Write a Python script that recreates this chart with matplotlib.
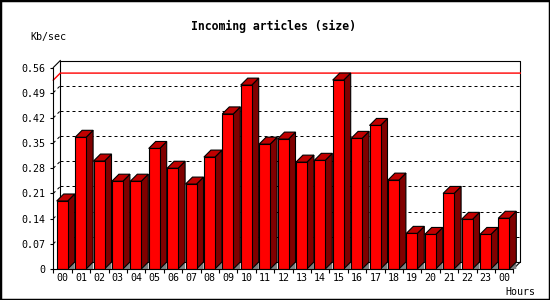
import matplotlib
matplotlib.use('Agg')
import matplotlib.pyplot as plt
from matplotlib.patches import Rectangle
import numpy as np

# ---- data ----
hours = ['00', '01', '02', '03', '04', '05', '06', '07', '08', '09', '10', '11',
         '12', '13', '14', '15', '16', '17', '18', '19', '20', '21', '22', '23', '00']
values = [0.189, 0.366, 0.300, 0.244, 0.244, 0.335, 0.280, 0.236, 0.311, 0.431,
          0.511, 0.347, 0.361, 0.297, 0.302, 0.525, 0.363, 0.399, 0.247, 0.099,
          0.096, 0.210, 0.138, 0.096, 0.141]
yticks = [0, 0.07, 0.14, 0.21, 0.28, 0.35, 0.42, 0.49, 0.56]
ytick_labels = ['0', '0.07', '0.14', '0.21', '0.28', '0.35', '0.42', '0.49', '0.56']
title = 'Incoming articles (size)'
ylabel = 'Kb/sec'
xlabel = 'Hours'

# ---- styling ----
W, H = 550, 300
FRONT = '#ff0000'
SIDE = '#800000'
TOP = '#c00000'
FLOOR = '#808080'
MONO = 'DejaVu Sans Mono'

fig = plt.figure(figsize=(W / 100, H / 100), dpi=100)
ax_left, ax_right, ax_bot, ax_top = 53.3, 513.3, 269.0, 67.5
ax = fig.add_axes([ax_left / W, 1 - ax_bot / H, (ax_right - ax_left) / W, (ax_bot - ax_top) / H])
n = len(values)
ymax = yticks[-1]
ax.set_xlim(0, n)
ax.set_ylim(0, ymax)

# 3D depth (7 px) in data units
px_x = (ax_right - ax_left) / n
px_y = (ax_bot - ax_top) / ymax
dx = 7 / px_x
dy = 7 / px_y
off = 3.4 / px_x
bw = 11 / px_x

lw = 0.8
dots = (0, (3, 3))

# back wall
ax.plot([dx, dx, n + dx, n + dx, dx], [dy, ymax + dy, ymax + dy, dy, dy],
        color='black', lw=lw, clip_on=False, zorder=1)
ax.plot([0, dx], [ymax, ymax + dy], color='black', lw=lw, clip_on=False, zorder=1)
ax.plot([n, n + dx], [0, dy], color='black', lw=lw, clip_on=False, zorder=1)
# grid on back wall and left wall
for v in yticks[1:-1]:
    ax.plot([dx, n + dx], [v + dy, v + dy], color='black', lw=0.72, ls=dots,
            clip_on=False, zorder=1)
    ax.plot([0, dx], [v, v + dy], color='black', lw=0.72, ls=dots,
            clip_on=False, zorder=1)
# max line
m = max(values)
ax.plot([0, dx, n + dx], [m, m + dy, m + dy], color='#ff0000', lw=1.0,
        clip_on=False, zorder=1.5)

# bars
xs = np.arange(n)
for i, v in enumerate(values):
    xl = xs[i] + off
    xr = xl + bw
    ax.fill([xr, xr + dx, xr + dx], [0, dy, 0], color=FLOOR, lw=0,
            clip_on=False, zorder=2)
    ax.fill([xr, xr + dx, xr + dx, xr], [0, dy, v + dy, v], facecolor=SIDE,
            edgecolor='black', lw=lw, clip_on=False, zorder=3)
    ax.fill([xl, xl + dx, xr + dx, xr], [v, v + dy, v + dy, v], facecolor=TOP,
            edgecolor='black', lw=lw, clip_on=False, zorder=3)
ax.bar(xs + off, values, width=bw, align='edge', color=FRONT, edgecolor='black',
       lw=lw, zorder=4)

# axes styling
for s in ['top', 'right']:
    ax.spines[s].set_visible(False)
for s in ['left', 'bottom']:
    ax.spines[s].set_linewidth(lw)
    ax.spines[s].set_zorder(5)
ax.set_facecolor('none')
ax.set_yticks(yticks)
ax.set_yticklabels(ytick_labels, fontfamily=MONO, fontsize=7.2)
ax.tick_params(axis='y', length=2.5, width=lw, pad=3)
ax.set_xticks(np.arange(n + 1))
ax.set_xticklabels([])
ax.set_xticks(xs + 0.5, minor=True)
ax.set_xticklabels(hours, minor=True, fontfamily=MONO, fontsize=7.2)
ax.tick_params(axis='x', which='major', length=3, width=lw)
ax.tick_params(axis='x', which='minor', length=0, pad=3)

fig.text(273.7 / W, 1 - 26.7 / H, title, ha='center', va='center',
         fontfamily=MONO, fontweight='bold', fontsize=8.3)
fig.text(30 / W, 1 - 36.7 / H, ylabel, ha='left', va='center',
         fontfamily=MONO, fontsize=7.2)
fig.text(505 / W, 1 - 291.7 / H, xlabel, ha='left', va='center',
         fontfamily=MONO, fontsize=7.2)

fig.add_artist(Rectangle((0, 0), 1, 1, transform=fig.transFigure, fill=False,
                         ec='black', lw=2.5))

fig.savefig('out.png', dpi=100)
